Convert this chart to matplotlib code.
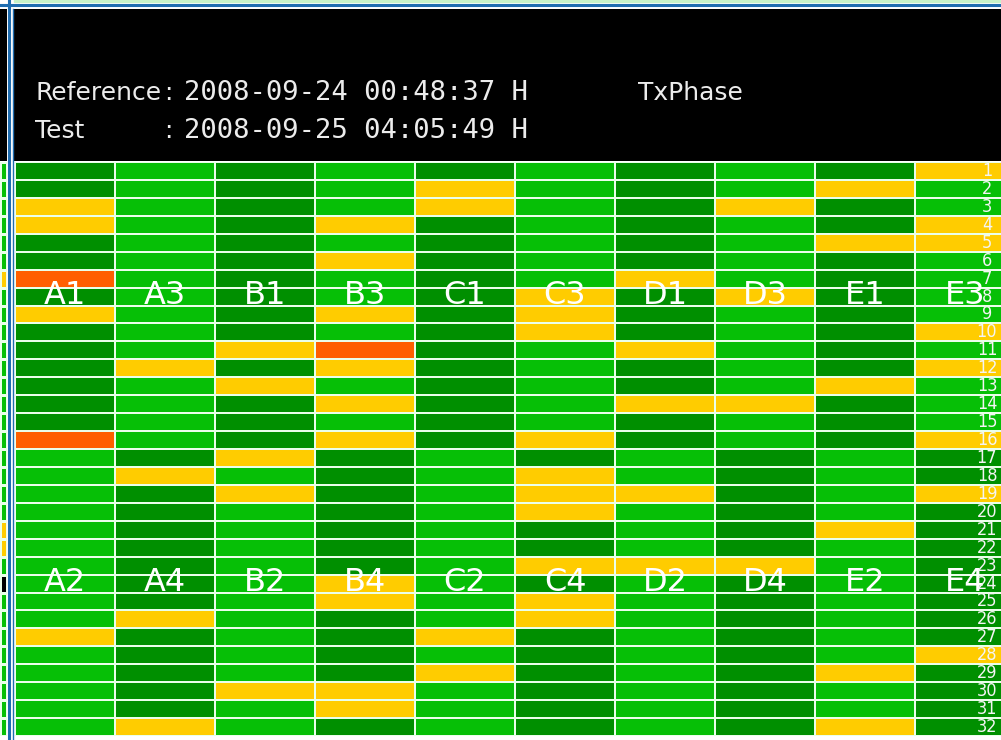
import matplotlib.pyplot as plt
import numpy as np
from matplotlib.colors import ListedColormap
from matplotlib.lines import Line2D
from matplotlib.patches import Rectangle

W, H = 1001, 740

# column names shown on the upper and lower half of each column
top_names = ["A1", "A3", "B1", "B3", "C1", "C3", "D1", "D3", "E1", "E3"]
bottom_names = ["A2", "A4", "B2", "B4", "C2", "C4", "D2", "D4", "E2", "E4"]

# cell state per row 1..32: D dark green, L light green, Y yellow, R red
col_A = "DDYYDDRDYDDDDDDR" + "LLLLLLLLLLYLLLLL"
col_B = "LLLLLLLLLLLYLLLL" + "DYDDDDDDDYDDDDDY"
col_C = "DDDDDDDDDDYDYDDD" + "YLYLLLLLLLLLLYLL"
col_D = "LLLYLYLLYLRYLYLY" + "DDDDDDDYYDDDDYYD"
col_E = "DYYDDDDDDDDDDDDD" + "LLLLLLLLLLYLYLLL"
col_F = "LLLLLLLYYYLLLLLY" + "DYYYDDYDYYDDDDDD"
col_G = "DDDDDDYDDDYDDYDD" + "LLYLLLYLLLLLLLLL"
col_H = "LLYLLLLYLLLLLYLL" + "DDDDDDYDDDDDDDDD"
col_I = "DYDDYDDDDDDDYDDD" + "LLLLYLLLLLLLYLLY"
col_J = "YLLYYLLLLYLYLLLY" + "DDYDDDDDDDDYDDDD"
columns = [col_A, col_B, col_C, col_D, col_E, col_F, col_G, col_H, col_I, col_J]

row_labels = [str(i) for i in range(1, 33)]

# sliver of the neighbouring chart at the left edge (K = black text)
left_strip = "LLLLLLYLLLLLLLLLLLLLYYLKLLLLLLLL"

ref_time = "2008-09-24 00:48:37 H"
test_time = "2008-09-25 04:05:49 H"
panel_title = "TxPhase"

codes = {"D": 0, "L": 1, "Y": 2, "R": 3, "K": 4}
palette = ["#008f00", "#06bf06", "#ffcc00", "#ff5f00", "#000000"]
cmap = ListedColormap(palette)

grid = np.array([[codes[c] for c in col] for col in columns]).T  # 32 x 10
strip = np.array([[codes[c]] for c in left_strip])

fig = plt.figure(figsize=(W / 100, H / 100), dpi=100)
fig.patch.set_facecolor("white")

# main grid of cells
ax = fig.add_axes([15 / W, (H - 736) / H, 1000 / W, 574 / H])
ax.pcolormesh(np.arange(11), np.arange(33), grid, cmap=cmap, vmin=-0.5, vmax=4.5,
              edgecolors="#eaffea", linewidth=1.3)
ax.set_xlim(0, 10)
ax.set_ylim(32, 0)
ax.axis("off")

for c, name in enumerate(top_names):
    ax.text(c + 0.5, 7.45, name, color="white", fontsize=23, ha="center", va="center")
for c, name in enumerate(bottom_names):
    ax.text(c + 0.5, 23.45, name, color="white", fontsize=23, ha="center", va="center")

for r, lab in enumerate(row_labels):
    ax.text(9.72, r + 0.5, lab, color="#f4f4f4", fontsize=13, ha="center", va="center",
            family=["Liberation Sans Narrow", "DejaVu Sans"], fontstretch="condensed")

# black header with the time stamps
hax = fig.add_axes([14 / W, (H - 161) / H, (W - 14) / W, 152 / H])
hax.set_facecolor("black")
hax.set_xlim(14, W)
hax.set_ylim(161, 9)
hax.set_xticks([])
hax.set_yticks([])
for s in hax.spines.values():
    s.set_visible(False)

txt = dict(color="#ececec", fontsize=18, va="baseline")
hax.text(35, 100, "Reference", **txt)
hax.text(164, 100, ":", **txt)
hax.text(35, 138, "Test", **txt)
hax.text(164, 138, ":", **txt)
hax.text(638, 100, panel_title, **txt)
mono = dict(color="#ececec", fontsize=19.5, va="baseline", family="DejaVu Sans Mono")
hax.text(184, 100, ref_time, **mono)
hax.text(184, 138, test_time, **mono)

# neighbouring chart peeking in on the left
sax = fig.add_axes([0, (H - 736) / H, 7 / W, 574 / H])
sax.pcolormesh(np.arange(2), np.arange(33), strip, cmap=cmap, vmin=-0.5, vmax=4.5,
               edgecolors="#eaffea", linewidth=1.0)
sax.set_ylim(32, 0)
sax.axis("off")
kax = fig.add_axes([0, (H - 161) / H, 7 / W, 152 / H])
kax.set_facecolor("black")
kax.set_xticks([])
kax.set_yticks([])
for s in kax.spines.values():
    s.set_visible(False)

# page frame lines
blue = "#1f6db0"
fig.patches.append(Rectangle((14 / W, 1 - 2 / H), 1, 2 / H, transform=fig.transFigure,
                             color="#c8f2c8", zorder=0))
fig.add_artist(Line2D([0, 1], [1 - 4.5 / H] * 2, color=blue, lw=2.2))
fig.add_artist(Line2D([8.5 / W] * 2, [0, 1], color=blue, lw=2.2))
fig.add_artist(Line2D([12.5 / W] * 2, [0, 1 - 9 / H], color=blue, lw=1.0))

fig.savefig("out.png", dpi=100, facecolor=fig.get_facecolor())
plt.close(fig)
